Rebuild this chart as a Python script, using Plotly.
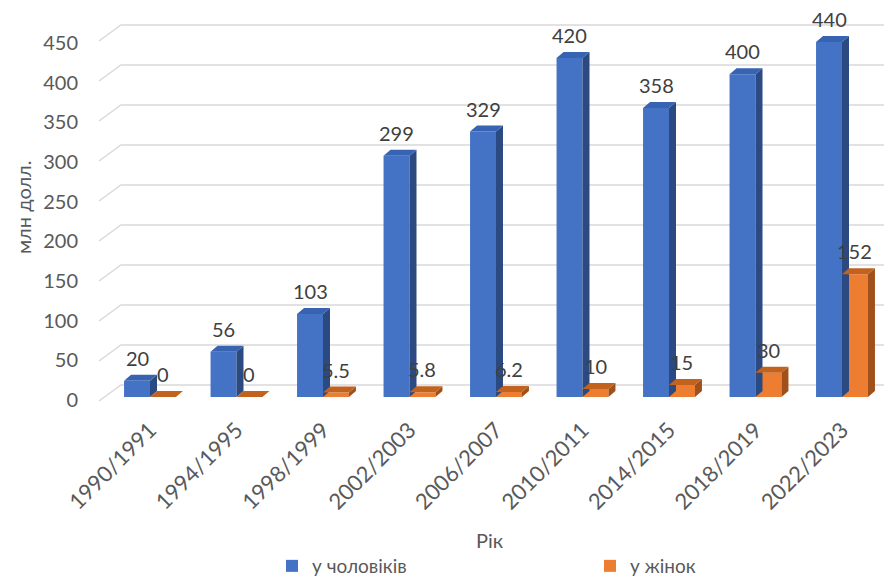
import plotly.graph_objects as go

categories = ["1990/1991", "1994/1995", "1998/1999", "2002/2003", "2006/2007",
              "2010/2011", "2014/2015", "2018/2019", "2022/2023"]
men = [20, 56, 103, 299, 329, 420, 358, 400, 440]
women = [0, 0, 5.5, 5.8, 6.2, 10, 15, 30, 152]
y_ticks = [0, 50, 100, 150, 200, 250, 300, 350, 400, 450]
series_names = ["у чоловіків", "у жінок"]

# the page body has an 8px margin: work in screen pixels and convert
OFF = 8
W, H = 892 - OFF, 578 - OFF


def sx_(px):   # screen x -> figure x
    return px - OFF


def sy_(py):   # screen y -> figure y
    return py - OFF


PLOT_LEFT, PLOT_RIGHT, PLOT_TOP, PLOT_BOTTOM = sx_(99), sx_(889), sy_(15), sy_(410)
L, R, T, B = PLOT_LEFT, W - PLOT_RIGHT, PLOT_TOP, H - PLOT_BOTTOM
PW, PH = PLOT_RIGHT - PLOT_LEFT, PLOT_BOTTOM - PLOT_TOP
PX_PER_CAT = 86.5
X0_PX = sx_(150)
x_range = [-(X0_PX - PLOT_LEFT) / PX_PER_CAT, (PLOT_RIGHT - X0_PX) / PX_PER_CAT]


def axis_range(zero_screen, scale):
    z = sy_(zero_screen)
    return [(z - PLOT_BOTTOM) / scale, (z - PLOT_TOP) / scale]


# bar axis: 0 at screen 397, 0.807 px per unit
Y_SCALE = 0.807
y_range = axis_range(397, Y_SCALE)
# wall/gridline axis: 0 at screen px 401, 0.8 px per unit
Y2_SCALE = 0.8
y2_range = axis_range(401, Y2_SCALE)
# tick label axis: 0 at screen 400, 450 at screen 43
Y3_SCALE = (400 - 43) / 450
y3_range = axis_range(400, Y3_SCALE)

bw = 0.30                 # bar front width (category units)
dx = 7 / PX_PER_CAT       # depth offset in x
dy = 6 / Y_SCALE          # depth offset in y

colors = {
    0: dict(front="#4472C4", side="#2B4A82", top="#3763B2"),
    1: dict(front="#ED7D31", side="#A0501A", top="#C2621F"),
}
legend_left_screen = [272, 590]

fig = go.Figure()


def faces(xs_left, vals):
    sx, sy, tx, ty = [], [], [], []
    for xl, v in zip(xs_left, vals):
        xr = xl + bw
        sx += [xr, xr + dx, xr + dx, xr, xr, None]
        sy += [0, dy, v + dy, v, 0, None]
        tx += [xl, xl + dx, xr + dx, xr, xl, None]
        ty += [v, v + dy, v + dy, v, v, None]
    return sx, sy, tx, ty


for k, vals in enumerate([men, women]):
    xs_left = [i - bw if k == 0 else i for i in range(len(categories))]
    c = colors[k]
    fig.add_trace(go.Bar(
        x=[x + bw / 2 for x in xs_left], y=vals, width=bw, base=0, name=series_names[k],
        legend="legend" if k == 0 else "legend2",
        marker=dict(color=c["front"], line=dict(width=0)), hoverinfo="skip"))
    sx, sy, tx, ty = faces(xs_left, vals)
    fig.add_trace(go.Scatter(x=sx, y=sy, mode="lines", fill="toself",
                             fillcolor=c["side"], line=dict(width=0, color=c["side"]),
                             showlegend=False, hoverinfo="skip"))
    fig.add_trace(go.Scatter(x=tx, y=ty, mode="lines", fill="toself",
                             fillcolor=c["top"], line=dict(width=0, color=c["top"]),
                             showlegend=False, hoverinfo="skip"))

# invisible traces to activate the overlay axes
for ax in ("y2", "y3"):
    fig.add_trace(go.Scatter(x=[x_range[0]], y=[y_ticks[1]], yaxis=ax, mode="markers",
                             marker=dict(opacity=0), showlegend=False, hoverinfo="skip"))

annotations = []
for k, vals in enumerate([men, women]):
    for i, v in enumerate(vals):
        xc = i - bw / 2 if k == 0 else i + bw / 2
        annotations.append(dict(x=xc, y=v, xref="x", yref="y", text=f"{v:g}",
                                showarrow=False, yshift=23, yanchor="middle",
                                font=dict(size=20, color="#404040")))


def px_to_paper_x(px):   # screen px
    return (sx_(px) - PLOT_LEFT) / PW


def py_to_paper_y(py):   # screen px
    return (PLOT_BOTTOM - sy_(py)) / PH


annotations.append(dict(x=px_to_paper_x(490), y=py_to_paper_y(540), xref="paper", yref="paper",
                        text="Рік", showarrow=False, font=dict(size=20, color="#595959"),
                        xanchor="center", yanchor="middle"))
annotations.append(dict(x=px_to_paper_x(23), y=py_to_paper_y(207), xref="paper", yref="paper",
                        text="млн долл.", showarrow=False, textangle=-90,
                        font=dict(size=20, color="#595959"),
                        xanchor="center", yanchor="middle"))

# back-wall gridlines with slanted stubs
back_dx = px_to_paper_x(121)
back_dy = 16 / Y2_SCALE
shapes = []
for v in y_ticks:
    shapes.append(dict(type="path", xref="paper", yref="y2", layer="below",
                       path=f"M 0,{v} L {back_dx},{v + back_dy} L 1,{v + back_dy}",
                       line=dict(color="#D9D9D9", width=1.5)))

legend_common = dict(orientation="h", xref="container", yref="container",
                     y=1 - sy_(566) / H, xanchor="left", yanchor="middle",
                     font=dict(size=19, color="#595959"), itemclick=False,
                     bgcolor="rgba(0,0,0,0)", tracegroupgap=0)

hidden_axis = dict(showgrid=False, zeroline=False, showline=False,
                   showticklabels=False, ticks="", automargin=False)

fig.update_layout(
    width=W, height=H,
    margin=dict(l=L, r=R, t=T, b=B, autoexpand=False),
    paper_bgcolor="white", plot_bgcolor="white",
    font=dict(family="Lato, 'Open Sans', sans-serif", color="#595959"),
    barmode="overlay",
    xaxis=dict(range=x_range, tickvals=list(range(len(categories))), ticktext=categories,
               tickangle=-45, showgrid=False, zeroline=False, showline=False, ticks="",
               tickfont=dict(size=22, color="#595959"), ticklabelstandoff=2,
               automargin=False),
    yaxis=dict(range=y_range, **hidden_axis),
    yaxis2=dict(range=y2_range, overlaying="y", side="left", **hidden_axis),
    yaxis3=dict(range=y3_range, overlaying="y", side="left", tickvals=y_ticks,
                showgrid=False, zeroline=False, showline=False, ticks="",
                tickfont=dict(size=20, color="#595959"), ticklabelstandoff=20,
                automargin=False),
    legend=dict(x=sx_(legend_left_screen[0]) / W, **legend_common),
    legend2=dict(x=sx_(legend_left_screen[1]) / W, **legend_common),
    annotations=annotations,
    shapes=shapes,
    showlegend=True,
)

fig.write_html("out.html")
